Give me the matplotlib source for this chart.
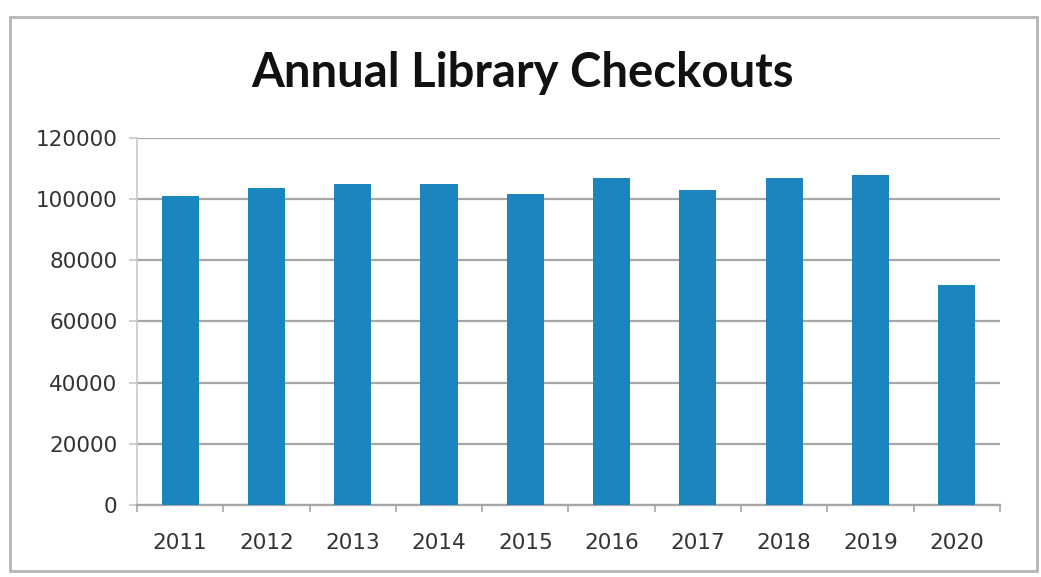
import matplotlib.pyplot as plt
from matplotlib.patches import Rectangle

years = ['2011', '2012', '2013', '2014', '2015', '2016', '2017', '2018', '2019', '2020']
checkouts = [101000, 103500, 105000, 105000, 101500, 107000, 103000, 107000, 108000, 72000]
y_ticks = [0, 20000, 40000, 60000, 80000, 100000, 120000]

bar_color = '#1b85bd'
grid_color = '#a6a6a6'
text_color = '#333333'

fig = plt.figure(figsize=(10.41, 5.77), dpi=100)
fig.patch.set_facecolor('white')

# chart border
fig.patches.append(Rectangle((0.010, 0.010), 0.986, 0.960, transform=fig.transFigure,
                             fill=False, edgecolor='#b5b5b5', linewidth=2))

ax = fig.add_axes([0.1316, 0.125, 0.829, 0.636])
x = range(len(years))
ax.bar(x, checkouts, width=0.43, color=bar_color, zorder=3)

ax.set_ylim(0, 120000)
ax.set_xlim(-0.5, len(years) - 0.5)
ax.set_yticks(y_ticks)
ax.set_yticklabels([str(v) for v in y_ticks])
ax.set_xticks(list(x))
ax.set_xticklabels(years)

ax.yaxis.grid(True, color=grid_color, linewidth=1.6, zorder=0)
ax.set_axisbelow(True)

for side in ['top', 'right']:
    ax.spines[side].set_visible(False)
ax.spines['left'].set_color('#c8c8c8')
ax.spines['left'].set_linewidth(1.2)
ax.spines['bottom'].set_color(grid_color)
ax.spines['bottom'].set_linewidth(1.6)

# category boundary ticks on the x axis
ax.set_xticks([i - 0.5 for i in range(len(years) + 1)], minor=True)
ax.tick_params(axis='x', which='major', length=0, pad=20, labelsize=15.5, labelcolor=text_color)
ax.tick_params(axis='x', which='minor', length=5, width=1.2, color=grid_color)
ax.tick_params(axis='y', length=6, width=1.2, color='#c8c8c8', pad=8, labelsize=15.5, labelcolor=text_color)

fig.text(0.502, 0.873, 'Annual Library Checkouts', ha='center', va='center',
         fontsize=34, fontweight='bold', family='Lato', color='#111111')

fig.savefig('out.png', dpi=100)
